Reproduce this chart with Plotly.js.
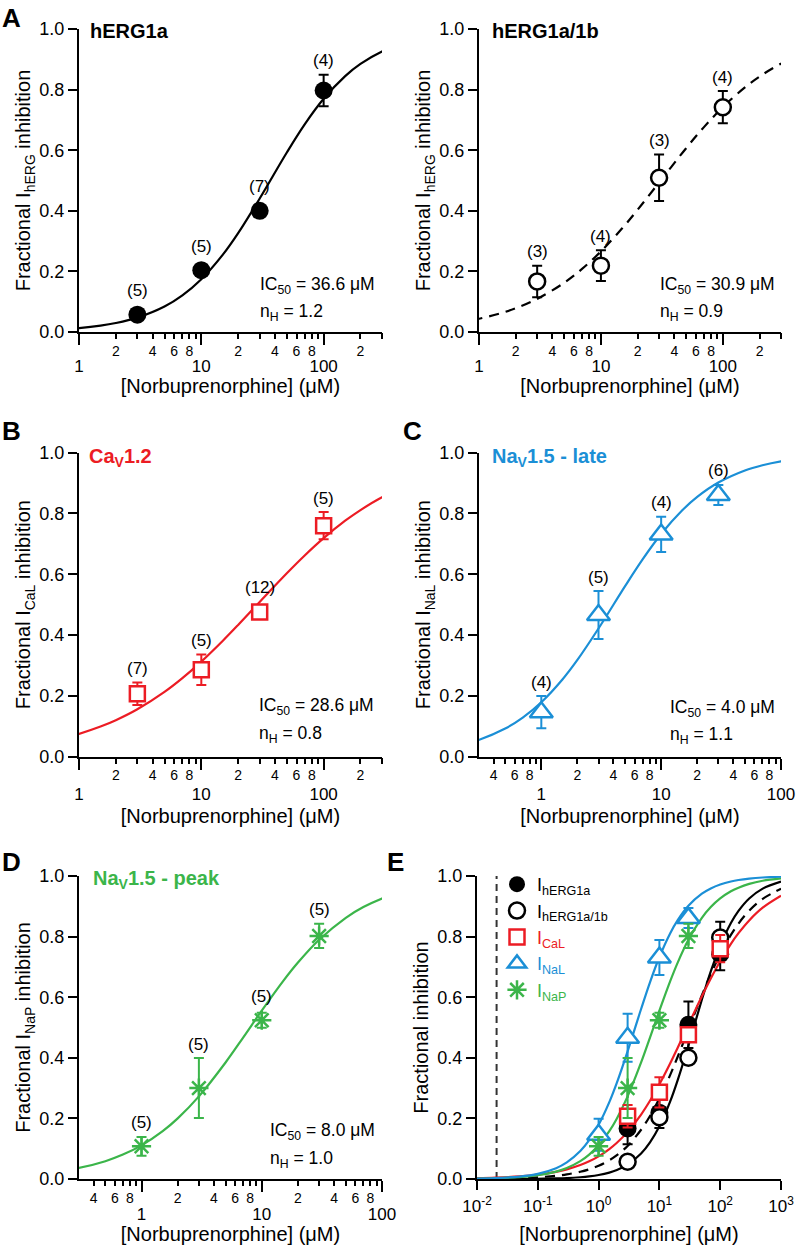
<!DOCTYPE html>
<html>
<head>
<meta charset="utf-8">
<script src="https://cdn.plot.ly/plotly-3.0.1.min.js"></script>
<style>html,body{margin:0;padding:0;background:#fff;}#plot{width:800px;height:1245px;}</style>
</head>
<body>
<div id="plot"></div>
<script>
// ---------- data ----------
const curveX = [0.01,0.02,0.05,0.1,0.2,0.3,0.5,0.7,1,1.5,2,3,5,7,10,15,20,30,50,70,100,150,200,300,500,1000];
const fitHERG1a = [0.0001,0.0001,0.0004,0.0008,0.0019,0.0031,0.0058,0.0086,0.0131,0.0212,0.0297,0.0474,0.0840,0.1208,0.1741,0.2553,0.3263,0.4406,0.5925,0.6853,0.7696,0.8446,0.8847,0.9258,0.9584,0.9815];
const fitHERG1b = [0.0007,0.0014,0.0031,0.0057,0.0106,0.0152,0.0239,0.0320,0.0436,0.0617,0.0784,0.1092,0.1626,0.2081,0.2659,0.3429,0.4034,0.4933,0.6066,0.6761,0.7421,0.8056,0.8430,0.8855,0.9245,0.9581];
const fitCaL = [0.0026,0.0043,0.0085,0.0142,0.0236,0.0317,0.0459,0.0583,0.0748,0.0988,0.1197,0.1556,0.2128,0.2581,0.3126,0.3813,0.4333,0.5090,0.6032,0.6618,0.7188,0.7761,0.8113,0.8535,0.8953,0.9349];
const fitNaL = [0.0014,0.0029,0.0080,0.0170,0.0357,0.0547,0.0922,0.1282,0.1787,0.2537,0.3181,0.4215,0.5610,0.6492,0.7326,0.8106,0.8545,0.9017,0.9415,0.9588,0.9718,0.9818,0.9867,0.9914,0.9951,0.9977];
const fitNaP = [0.0012,0.0025,0.0062,0.0124,0.0244,0.0361,0.0588,0.0805,0.1111,0.1579,0.2000,0.2727,0.3846,0.4667,0.5556,0.6522,0.7143,0.7895,0.8621,0.8974,0.9259,0.9494,0.9615,0.9740,0.9843,0.9920];

const concHERG = [3,10,30,100];
const meanHERG1a = [0.057,0.204,0.400,0.797];
const semHERG1a = [0.010,0.012,0.012,0.052];
const nHERG1a = [5,5,7,4];
const meanHERG1b = [0.167,0.219,0.509,0.742];
const semHERG1b = [0.052,0.051,0.077,0.053];
const nHERG1b = [3,4,3,4];

const concCaL = [3,10,30,100];
const meanCaL = [0.207,0.286,0.476,0.760];
const semCaL = [0.037,0.050,0.015,0.045];
const nCaL = [7,5,12,5];

const concNa = [1,3,10,30];
const meanNaL = [0.146,0.466,0.731,0.861];
const semNaL = [0.053,0.079,0.058,0.033];
const nNaL = [4,5,4,6];
const meanNaP = [0.108,0.300,0.524,0.802];
const semNaP = [0.031,0.099,0.025,0.040];
const nNaP = [5,5,5,5];

const cmaxLine = 0.021;

const yTickVals = [0,0.2,0.4,0.6,0.8,1.0];
const yTickText = ['0.0','0.2','0.4','0.6','0.8','1.0'];
const majorA = [1,10,100];
const majorAText = ['1','10','100'];
const minorA = [2,3,4,5,6,7,8,9,20,30,40,50,60,70,80,90,200,300];
const minorAText = ['2','','4','','6','','8','','2','','4','','6','','8','','2',''];
const majorC = [1,10,100];
const majorCText = ['1','10','100'];
const minorC = [0.4,0.5,0.6,0.7,0.8,0.9,2,3,4,5,6,7,8,9,20,30,40,50,60,70,80,90];
const minorCText = ['4','','6','','8','','2','','4','','6','','8','','2','','4','','6','','8',''];
const majorE = [0.01,0.1,1,10,100,1000];
const majorEText = ['10<sup>-2</sup>','10<sup>-1</sup>','10<sup>0</sup>','10<sup>1</sup>','10<sup>2</sup>','10<sup>3</sup>'];

const RED = '#ec1c24', BLUE = '#1b8fd6', GREEN = '#3bb54a', BLACK = '#000000';
const FONT = '"Liberation Sans", Arial, sans-serif';
const XTITLE = '[Norbuprenorphine] (μM)';

// ---------- geometry ----------
const W = 800, H = 1245;
const colL = [79/W, 382/W], colR = [479/W, 781/W], colE = [477/W, 781/W];
const row1 = [1-332/H, 1-29/H], row2 = [1-756.6/H, 1-452.7/H], row3 = [1-1179/H, 1-876/H];
const PXU = 303; // px per y unit

function yAxis(domain, anchor, title) {
  return {domain, anchor, range:[0,1], tickmode:'array', tickvals:yTickVals, ticktext:yTickText,
    ticks:'outside', ticklen:9, tickwidth:2, tickcolor:'#000', showline:true, linewidth:2, linecolor:'#000',
    showgrid:false, zeroline:false, fixedrange:true, tickfont:{size:18},
    title:{text:title, font:{size:20}, standoff:3}};
}
function xMain(domain, anchor, range, vals, text, standoff) {
  return {type:'log', domain, anchor, range, tickmode:'array', tickvals:vals, ticktext:text,
    ticks:'outside', ticklen:11, tickwidth:2, tickcolor:'#000', showline:true, linewidth:2, linecolor:'#000',
    showgrid:false, zeroline:false, fixedrange:true, tickfont:{size:17}, ticklabelstandoff:standoff};
}
function xMinor(over, anchor, range, vals, text, titleStandoff) {
  return {type:'log', overlaying:over, anchor, range, tickmode:'array', tickvals:vals, ticktext:text,
    ticks:'outside', ticklen:6, tickwidth:2, tickcolor:'#000', showline:false, showgrid:false, zeroline:false,
    fixedrange:true, tickfont:{size:14}, ticklabelstandoff:0,
    title:{text:XTITLE, font:{size:20}, standoff:titleStandoff}};
}

const rA = [0, Math.log10(300)], rC = [-0.52, 2], rE = [-2, 3];

const layout = {
  width:W, height:H, margin:{l:0,r:0,t:0,b:0}, paper_bgcolor:'#fff', plot_bgcolor:'rgba(0,0,0,0)',
  font:{family:FONT, color:'#000', size:16},
  showlegend:true,
  legend:{x:497/W, y:1-866/H, xanchor:'left', yanchor:'top', bgcolor:'rgba(0,0,0,0)', borderwidth:0,
    font:{size:18}, tracegroupgap:0, itemclick:false},
  xaxis: xMain(colL, 'y', rA, majorA, majorAText, 7),
  yaxis: yAxis(row1, 'x', 'Fractional I<sub>hERG</sub> inhibition'),
  xaxis2: xMain(colR, 'y2', rA, majorA, majorAText, 7),
  yaxis2: yAxis(row1, 'x2', 'Fractional I<sub>hERG</sub> inhibition'),
  xaxis3: xMain(colL, 'y3', rA, majorA, majorAText, 10),
  yaxis3: yAxis(row2, 'x3', 'Fractional I<sub>CaL</sub> inhibition'),
  xaxis4: xMain(colR, 'y4', rC, majorC, majorCText, 10),
  yaxis4: yAxis(row2, 'x4', 'Fractional I<sub>NaL</sub> inhibition'),
  xaxis5: xMain(colL, 'y5', rC, majorC, majorCText, 8),
  yaxis5: yAxis(row3, 'x5', 'Fractional I<sub>NaP</sub> inhibition'),
  xaxis6: Object.assign(xMain(colE, 'y6', rE, majorE, majorEText, 2),
    {ticklen:9, title:{text:XTITLE, font:{size:20}, standoff:13}}),
  yaxis6: yAxis(row3, 'x6', 'Fractional inhibition'),
  xaxis7: xMinor('x', 'y', rA, minorA, minorAText, 21),
  xaxis8: xMinor('x2', 'y2', rA, minorA, minorAText, 21),
  xaxis9: xMinor('x3', 'y3', rA, minorA, minorAText, 26),
  xaxis10: xMinor('x4', 'y4', rC, minorC, minorCText, 26),
  xaxis11: xMinor('x5', 'y5', rC, minorC, minorCText, 24),
  annotations: [], shapes: []
};

const traces = [];
function curve(xa, ya, ys, color, dash) {
  traces.push({x:curveX, y:ys, xaxis:xa, yaxis:ya, mode:'lines', line:{color, width:2.2, shape:'spline', dash:dash||'solid'},
    showlegend:false, hoverinfo:'skip'});
}
function points(xa, ya, xs, ys, es, marker, color, name, legend) {
  traces.push({x:xs, y:ys, xaxis:xa, yaxis:ya, mode:'markers', marker, cliponaxis:false,
    error_y:{type:'data', array:es, visible:true, color, thickness:2, width:5},
    name:name||'', showlegend:!!legend, hoverinfo:'skip'});
}
function nLabels(xa, ya, xs, ys, es, ns) {
  xs.forEach((x,i)=>{
    layout.annotations.push({xref:xa, yref:ya, x:Math.log10(x), y:ys[i], text:'('+ns[i]+')', showarrow:false,
      yshift:Math.max(es[i]*PXU, 10)+14, font:{size:17}});
  });
}
function stats(xa, ya, ic, nh) {
  const xd = xa+' domain', yd = ya+' domain';
  layout.annotations.push({xref:xd, yref:yd, x:ic[0], y:ic[1], xanchor:'left', yanchor:'middle', showarrow:false,
    text:ic[2], font:{size:17.5}, align:'left'});
  layout.annotations.push({xref:xd, yref:yd, x:nh[0], y:nh[1], xanchor:'left', yanchor:'middle', showarrow:false,
    text:nh[2], font:{size:17.5}, align:'left'});
}
function paperText(x, y, text, size, color, bold) {
  layout.annotations.push({xref:'paper', yref:'paper', x:x/W, y:1-y/H, xanchor:'left', yanchor:'middle', showarrow:false,
    text: bold ? '<b>'+text+'</b>' : text, font:{size, color}});
}

const mFilled = {symbol:'circle', size:18, color:BLACK};
const mOpen = {symbol:'circle', size:16, color:'#fff', line:{color:BLACK, width:2.5}};
const mSquare = {symbol:'square', size:15, color:'#fff', line:{color:RED, width:2.5}};
const mTri = {symbol:'triangle-up', size:20, color:'#fff', line:{color:BLUE, width:2.5}};
const mStar = {symbol:'asterisk-open', size:16, color:GREEN, line:{color:GREEN, width:2.5}};

// A - hERG1a
curve('x','y', fitHERG1a, BLACK);
points('x','y', concHERG, meanHERG1a, semHERG1a, mFilled, BLACK);
nLabels('x','y', concHERG, meanHERG1a, semHERG1a, nHERG1a);
stats('x','y', [0.592,0.152,'IC<sub>50</sub> = 36.6 μM'], [0.592,0.063,'n<sub>H</sub> = 1.2']);
// A - hERG1a/1b
curve('x2','y2', fitHERG1b, BLACK, '10px,7px');
points('x2','y2', concHERG, meanHERG1b, semHERG1b, mOpen, BLACK);
nLabels('x2','y2', concHERG, meanHERG1b, semHERG1b, nHERG1b);
stats('x2','y2', [0.592,0.152,'IC<sub>50</sub> = 30.9 μM'], [0.592,0.063,'n<sub>H</sub> = 0.9']);
// B - CaL
curve('x3','y3', fitCaL, RED);
points('x3','y3', concCaL, meanCaL, semCaL, mSquare, RED);
nLabels('x3','y3', concCaL, meanCaL, semCaL, nCaL);
stats('x3','y3', [0.587,0.164,'IC<sub>50</sub> = 28.6 μM'], [0.587,0.074,'n<sub>H</sub> = 0.8']);
// C - NaL
curve('x4','y4', fitNaL, BLUE);
points('x4','y4', concNa, meanNaL, semNaL, mTri, BLUE);
nLabels('x4','y4', concNa, meanNaL, semNaL, nNaL);
stats('x4','y4', [0.627,0.159,'IC<sub>50</sub> = 4.0 μM'], [0.627,0.071,'n<sub>H</sub> = 1.1']);
// D - NaP
curve('x5','y5', fitNaP, GREEN);
points('x5','y5', concNa, meanNaP, semNaP, mStar, GREEN);
nLabels('x5','y5', concNa, meanNaP, semNaP, nNaP);
stats('x5','y5', [0.625,0.156,'IC<sub>50</sub> = 8.0 μM'], [0.625,0.063,'n<sub>H</sub> = 1.0']);
// E - overlay
traces.push({x:[cmaxLine,cmaxLine], y:[0,1], xaxis:'x6', yaxis:'y6', mode:'lines',
  line:{color:'#333', width:2, dash:'7px,5px'}, showlegend:false, hoverinfo:'skip'});
curve('x6','y6', fitHERG1a, BLACK);
curve('x6','y6', fitHERG1b, BLACK, '10px,7px');
curve('x6','y6', fitCaL, RED);
curve('x6','y6', fitNaP, GREEN);
curve('x6','y6', fitNaL, BLUE);
points('x6','y6', concHERG, meanHERG1b, semHERG1b, mFilled, BLACK, 'I<sub>hERG1a</sub>', true);
points('x6','y6', concHERG, meanHERG1a, semHERG1a, mOpen, BLACK, 'I<sub>hERG1a/1b</sub>', true);
points('x6','y6', concCaL, meanCaL, semCaL, mSquare, RED, '<span style="color:'+RED+'">I<sub>CaL</sub></span>', true);
points('x6','y6', concNa, meanNaL, semNaL, mTri, BLUE, '<span style="color:'+BLUE+'">I<sub>NaL</sub></span>', true);
points('x6','y6', concNa, meanNaP, semNaP, mStar, GREEN, '<span style="color:'+GREEN+'">I<sub>NaP</sub></span>', true);

// overlay axes need a trace reference
['x7','x8','x9','x10','x11'].forEach((xa,i)=>{
  traces.push({x:[], y:[], xaxis:xa, yaxis:['y','y2','y3','y4','y5'][i], mode:'markers', showlegend:false, hoverinfo:'skip'});
});

// panel titles and letters
paperText(88, 31, 'hERG1a', 20, BLACK, true);
paperText(490, 31, 'hERG1a/1b', 20, BLACK, true);
paperText(87, 457, 'Ca<sub>V</sub>1.2', 20, RED, true);
paperText(490, 457, 'Na<sub>V</sub>1.5 - late', 20, BLUE, true);
paperText(91, 879, 'Na<sub>V</sub>1.5 - peak', 20, GREEN, true);
paperText(0, 18, 'A', 26, BLACK, true);
paperText(0, 431, 'B', 26, BLACK, true);
paperText(401, 431, 'C', 26, BLACK, true);
paperText(0, 862, 'D', 26, BLACK, true);
paperText(385, 862, 'E', 26, BLACK, true);

Plotly.newPlot('plot', traces, layout, {staticPlot:true, displayModeBar:false});
</script>
</body>
</html>
